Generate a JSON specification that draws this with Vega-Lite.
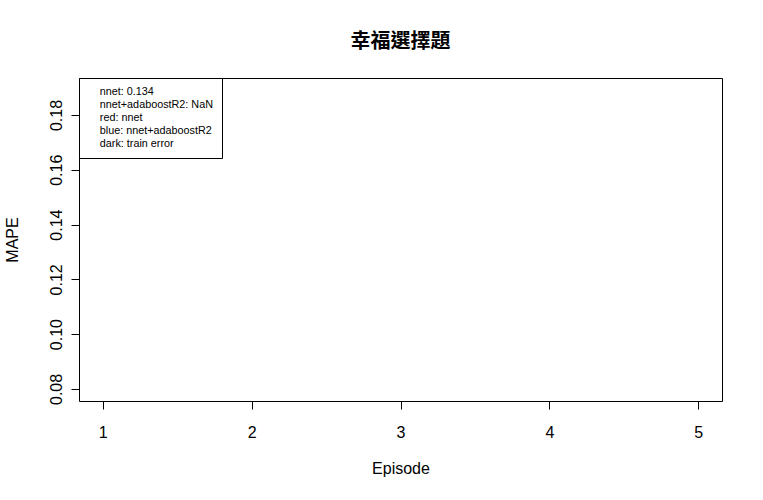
{
  "$schema": "https://vega.github.io/schema/vega-lite/v6.json",
  "autosize": "none",
  "width": 643,
  "height": 323,
  "padding": {"left": 79, "top": 78, "right": 41, "bottom": 99},
  "background": "white",
  "title": {
    "text": "幸福選擇題",
    "font": "Noto Sans CJK TC",
    "fontSize": 20,
    "fontWeight": "bold",
    "color": "black",
    "anchor": "middle",
    "baseline": "alphabetic",
    "offset": 10
  },
  "config": {
    "view": {"stroke": "black", "strokeWidth": 1},
    "axis": {
      "labelFont": "Liberation Sans",
      "titleFont": "Liberation Sans",
      "labelFontSize": 16,
      "titleFontSize": 16,
      "titleFontWeight": "normal",
      "labelColor": "black",
      "titleColor": "black",
      "tickColor": "black",
      "domain": false,
      "grid": false,
      "tickSize": 8
    },
    "legend": {
      "orient": "top-left",
      "offset": 0,
      "padding": 8.5,
      "strokeColor": "black",
      "fillColor": "white",
      "labelFont": "Liberation Sans",
      "labelFontSize": 10.8,
      "labelColor": "black",
      "labelOffset": 1.5,
      "symbolSize": 0,
      "symbolOpacity": 0,
      "symbolStrokeWidth": 0,
      "rowPadding": 1,
      "cornerRadius": 0
    }
  },
  "layer": [
    {
      "data": {
        "values": [
          {"Episode": 1, "series": "nnet", "MAPE": null},
          {"Episode": 2, "series": "nnet", "MAPE": null},
          {"Episode": 3, "series": "nnet", "MAPE": null},
          {"Episode": 4, "series": "nnet", "MAPE": null},
          {"Episode": 5, "series": "nnet", "MAPE": null},
          {"Episode": 1, "series": "nnet+adaboostR2", "MAPE": null},
          {"Episode": 2, "series": "nnet+adaboostR2", "MAPE": null},
          {"Episode": 3, "series": "nnet+adaboostR2", "MAPE": null},
          {"Episode": 4, "series": "nnet+adaboostR2", "MAPE": null},
          {"Episode": 5, "series": "nnet+adaboostR2", "MAPE": null}
        ]
      },
      "mark": {"type": "line", "clip": true},
      "encoding": {
        "x": {
          "field": "Episode",
          "type": "quantitative",
          "scale": {"domain": [0.84, 5.16], "nice": false, "zero": false},
          "axis": {
            "values": [1, 2, 3, 4, 5],
            "format": "d",
            "title": "Episode",
            "labelPadding": 15,
            "titlePadding": 20,
            "labelBaseline": "top"
          }
        },
        "y": {
          "field": "MAPE",
          "type": "quantitative",
          "scale": {"domain": [0.0756, 0.1935], "nice": false, "zero": false},
          "axis": {
            "values": [0.08, 0.1, 0.12, 0.14, 0.16, 0.18],
            "format": ".2f",
            "title": "MAPE",
            "labelAngle": -90,
            "labelAlign": "center",
            "labelBaseline": "alphabetic",
            "labelPadding": 10,
            "titlePadding": 28
          }
        },
        "color": {
          "field": "series",
          "type": "nominal",
          "scale": {"domain": ["nnet", "nnet+adaboostR2"], "range": ["red", "blue"]},
          "legend": null
        }
      }
    },
    {
      "data": {
        "values": [
          {"legend": "nnet: 0.134"},
          {"legend": "nnet+adaboostR2: NaN"},
          {"legend": "red: nnet"},
          {"legend": "blue: nnet+adaboostR2"},
          {"legend": "dark: train error"}
        ]
      },
      "mark": {"type": "point", "opacity": 0},
      "encoding": {
        "color": {
          "field": "legend",
          "type": "nominal",
          "sort": null,
          "scale": {
            "domain": ["nnet: 0.134", "nnet+adaboostR2: NaN", "red: nnet", "blue: nnet+adaboostR2", "dark: train error"],
            "range": ["black", "black", "black", "black", "black"]
          },
          "legend": {"title": null}
        }
      }
    }
  ],
  "resolve": {"scale": {"color": "independent"}}
}
